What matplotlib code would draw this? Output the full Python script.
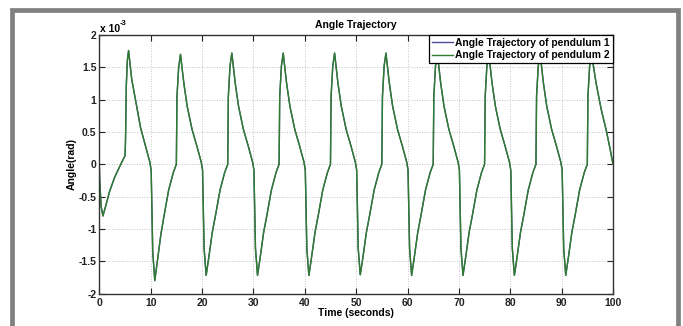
import matplotlib
matplotlib.use("Agg")
import matplotlib.pyplot as plt
from matplotlib.lines import Line2D

# angle values are in units of 1e-3 rad (axis shows "x 10^-3")
time_s = [
    0.0, 0.08, 0.35, 0.7, 1.3, 2.0, 3.0, 4.0, 5.0, 5.1, 5.25, 5.45, 5.7,
    6.3, 7.1, 8.05, 9.0, 9.85, 10.1, 10.4, 10.8, 11.3, 12.0, 12.6, 13.5, 14.4, 15.0, 15.12, 15.45, 15.8,
    16.45, 17.1, 18.05, 19.0, 19.85, 20.1, 20.4, 20.8, 21.3, 22.0, 22.6, 23.5, 24.4, 25.0, 25.12, 25.45, 25.8,
    26.45, 27.1, 28.05, 29.0, 29.85, 30.1, 30.4, 30.8, 31.3, 32.0, 32.6, 33.5, 34.4, 35.0, 35.12, 35.45, 35.8,
    36.45, 37.1, 38.05, 39.0, 39.85, 40.1, 40.4, 40.8, 41.3, 42.0, 42.6, 43.5, 44.4, 45.0, 45.12, 45.45, 45.8,
    46.45, 47.1, 48.05, 49.0, 49.85, 50.1, 50.4, 50.8, 51.3, 52.0, 52.6, 53.5, 54.4, 55.0, 55.12, 55.45, 55.8,
    56.45, 57.1, 58.05, 59.0, 59.85, 60.1, 60.4, 60.8, 61.3, 62.0, 62.6, 63.5, 64.4, 65.0, 65.12, 65.45, 65.8,
    66.45, 67.1, 68.05, 69.0, 69.85, 70.1, 70.4, 70.8, 71.3, 72.0, 72.6, 73.5, 74.4, 75.0, 75.12, 75.45, 75.8,
    76.45, 77.1, 78.05, 79.0, 79.85, 80.1, 80.4, 80.8, 81.3, 82.0, 82.6, 83.5, 84.4, 85.0, 85.12, 85.45, 85.8,
    86.45, 87.1, 88.05, 89.0, 89.85, 90.1, 90.4, 90.8, 91.3, 92.0, 92.6, 93.5, 94.4, 95.0, 95.12, 95.45, 95.8,
    96.7, 97.7, 98.7, 99.4, 100.0,
]
angle_p2 = [
    0.0, -0.25, -0.65, -0.80, -0.63, -0.42, -0.20, -0.03, 0.13, 0.35, 1.20, 1.60, 1.76,
    1.32, 0.97, 0.56, 0.28, 0.03, -0.10, -1.35, -1.80, -1.50, -1.08, -0.80, -0.40, -0.13, 0.0, 1.05, 1.50, 1.70,
    1.26, 0.90, 0.54, 0.28, 0.03, -0.09, -1.30, -1.72, -1.45, -1.05, -0.80, -0.40, -0.13, 0.0, 1.05, 1.52, 1.72,
    1.26, 0.90, 0.54, 0.28, 0.03, -0.09, -1.30, -1.72, -1.45, -1.05, -0.80, -0.40, -0.13, 0.0, 1.05, 1.52, 1.72,
    1.26, 0.90, 0.54, 0.28, 0.03, -0.09, -1.30, -1.72, -1.45, -1.05, -0.80, -0.40, -0.13, 0.0, 1.05, 1.52, 1.72,
    1.26, 0.90, 0.54, 0.28, 0.03, -0.09, -1.30, -1.71, -1.45, -1.05, -0.80, -0.40, -0.13, 0.0, 1.05, 1.52, 1.72,
    1.26, 0.90, 0.54, 0.28, 0.03, -0.09, -1.30, -1.72, -1.45, -1.05, -0.80, -0.40, -0.13, 0.0, 1.05, 1.52, 1.72,
    1.26, 0.90, 0.54, 0.28, 0.03, -0.09, -1.30, -1.72, -1.45, -1.05, -0.80, -0.40, -0.13, 0.0, 1.05, 1.52, 1.72,
    1.26, 0.90, 0.54, 0.28, 0.03, -0.09, -1.30, -1.72, -1.45, -1.05, -0.80, -0.40, -0.13, 0.0, 1.05, 1.52, 1.72,
    1.26, 0.90, 0.54, 0.28, 0.03, -0.09, -1.30, -1.72, -1.45, -1.05, -0.80, -0.40, -0.13, 0.0, 1.05, 1.52, 1.72,
    1.26, 0.85, 0.52, 0.25, 0.0,
]
# pendulum 1 lies exactly under pendulum 2 in the picture
angle_p1 = list(angle_p2)

x_ticks = [0, 10, 20, 30, 40, 50, 60, 70, 80, 90, 100]
y_ticks = [-2, -1.5, -1, -0.5, 0, 0.5, 1, 1.5, 2]
y_tick_labels = ["-2", "-1.5", "-1", "-0.5", "0", "0.5", "1", "1.5", "2"]
labels = ["Angle Trajectory of pendulum 1", "Angle Trajectory of pendulum 2"]

plt.rcParams["font.family"] = ["Liberation Sans", "DejaVu Sans"]
plt.rcParams["font.weight"] = "bold"
plt.rcParams["font.size"] = 7.5

fig = plt.figure(figsize=(6.83, 3.26), dpi=100)
ax = fig.add_axes([99.3 / 683, 1 - 293.5 / 326, (613 - 99.3) / 683, (293.5 - 35) / 326])

ax.plot(time_s, angle_p1, color="#4b4b96", lw=1.0, label=labels[0])
ax.plot(time_s, angle_p2, color="#2d7d2d", lw=1.0, label=labels[1])

ax.set_xlim(0, 100)
ax.set_ylim(-2, 2)
ax.set_xticks(x_ticks)
ax.set_yticks(y_ticks)
ax.set_yticklabels(y_tick_labels)
ax.tick_params(direction="in", top=True, right=True, length=4, width=0.8,
               labelsize=7.5, colors="#222222")
ax.tick_params(axis="x", pad=3)
ax.tick_params(axis="y", pad=2)
ax.grid(True, linestyle=(0, (1, 2)), color="#b0b0b0", lw=0.6)
for sp in ax.spines.values():
    sp.set_color("#333333")
    sp.set_linewidth(1.0)

ax.set_title("Angle Trajectory", fontsize=7.5, fontweight="bold", pad=5)
ax.set_xlabel("Time (seconds)", fontsize=7.5, fontweight="bold")
ax.set_ylabel("Angle(rad)", fontsize=7.5, fontweight="bold")
ax.xaxis.set_label_coords(0.5, -0.056)
ax.yaxis.set_label_coords(-0.043, 0.5)

# exponent label like matlab
ax.text(0.002, 1.012, "x 10", transform=ax.transAxes, ha="left", va="baseline",
        fontsize=7.5, fontweight="bold")
ax.text(0.040, 1.04, "-3", transform=ax.transAxes, ha="left", va="baseline",
        fontsize=5.5, fontweight="bold")

leg = ax.legend(loc="upper right", borderaxespad=0, fancybox=False, framealpha=1,
                edgecolor="black", fontsize=7.4, handlelength=2.1, handletextpad=0.2,
                borderpad=0.3, labelspacing=0.2)
leg.get_frame().set_linewidth(0.9)

# grey frame round the figure
fig.add_artist(Line2D([11.7 / 683, 11.7 / 683, 678 / 683, 678 / 683],
                      [0, 1 - 9.5 / 326, 1 - 9.5 / 326, 0],
                      transform=fig.transFigure, color="#808080", lw=3.4,
                      solid_joinstyle="miter"))

fig.savefig("out.png", dpi=100)
